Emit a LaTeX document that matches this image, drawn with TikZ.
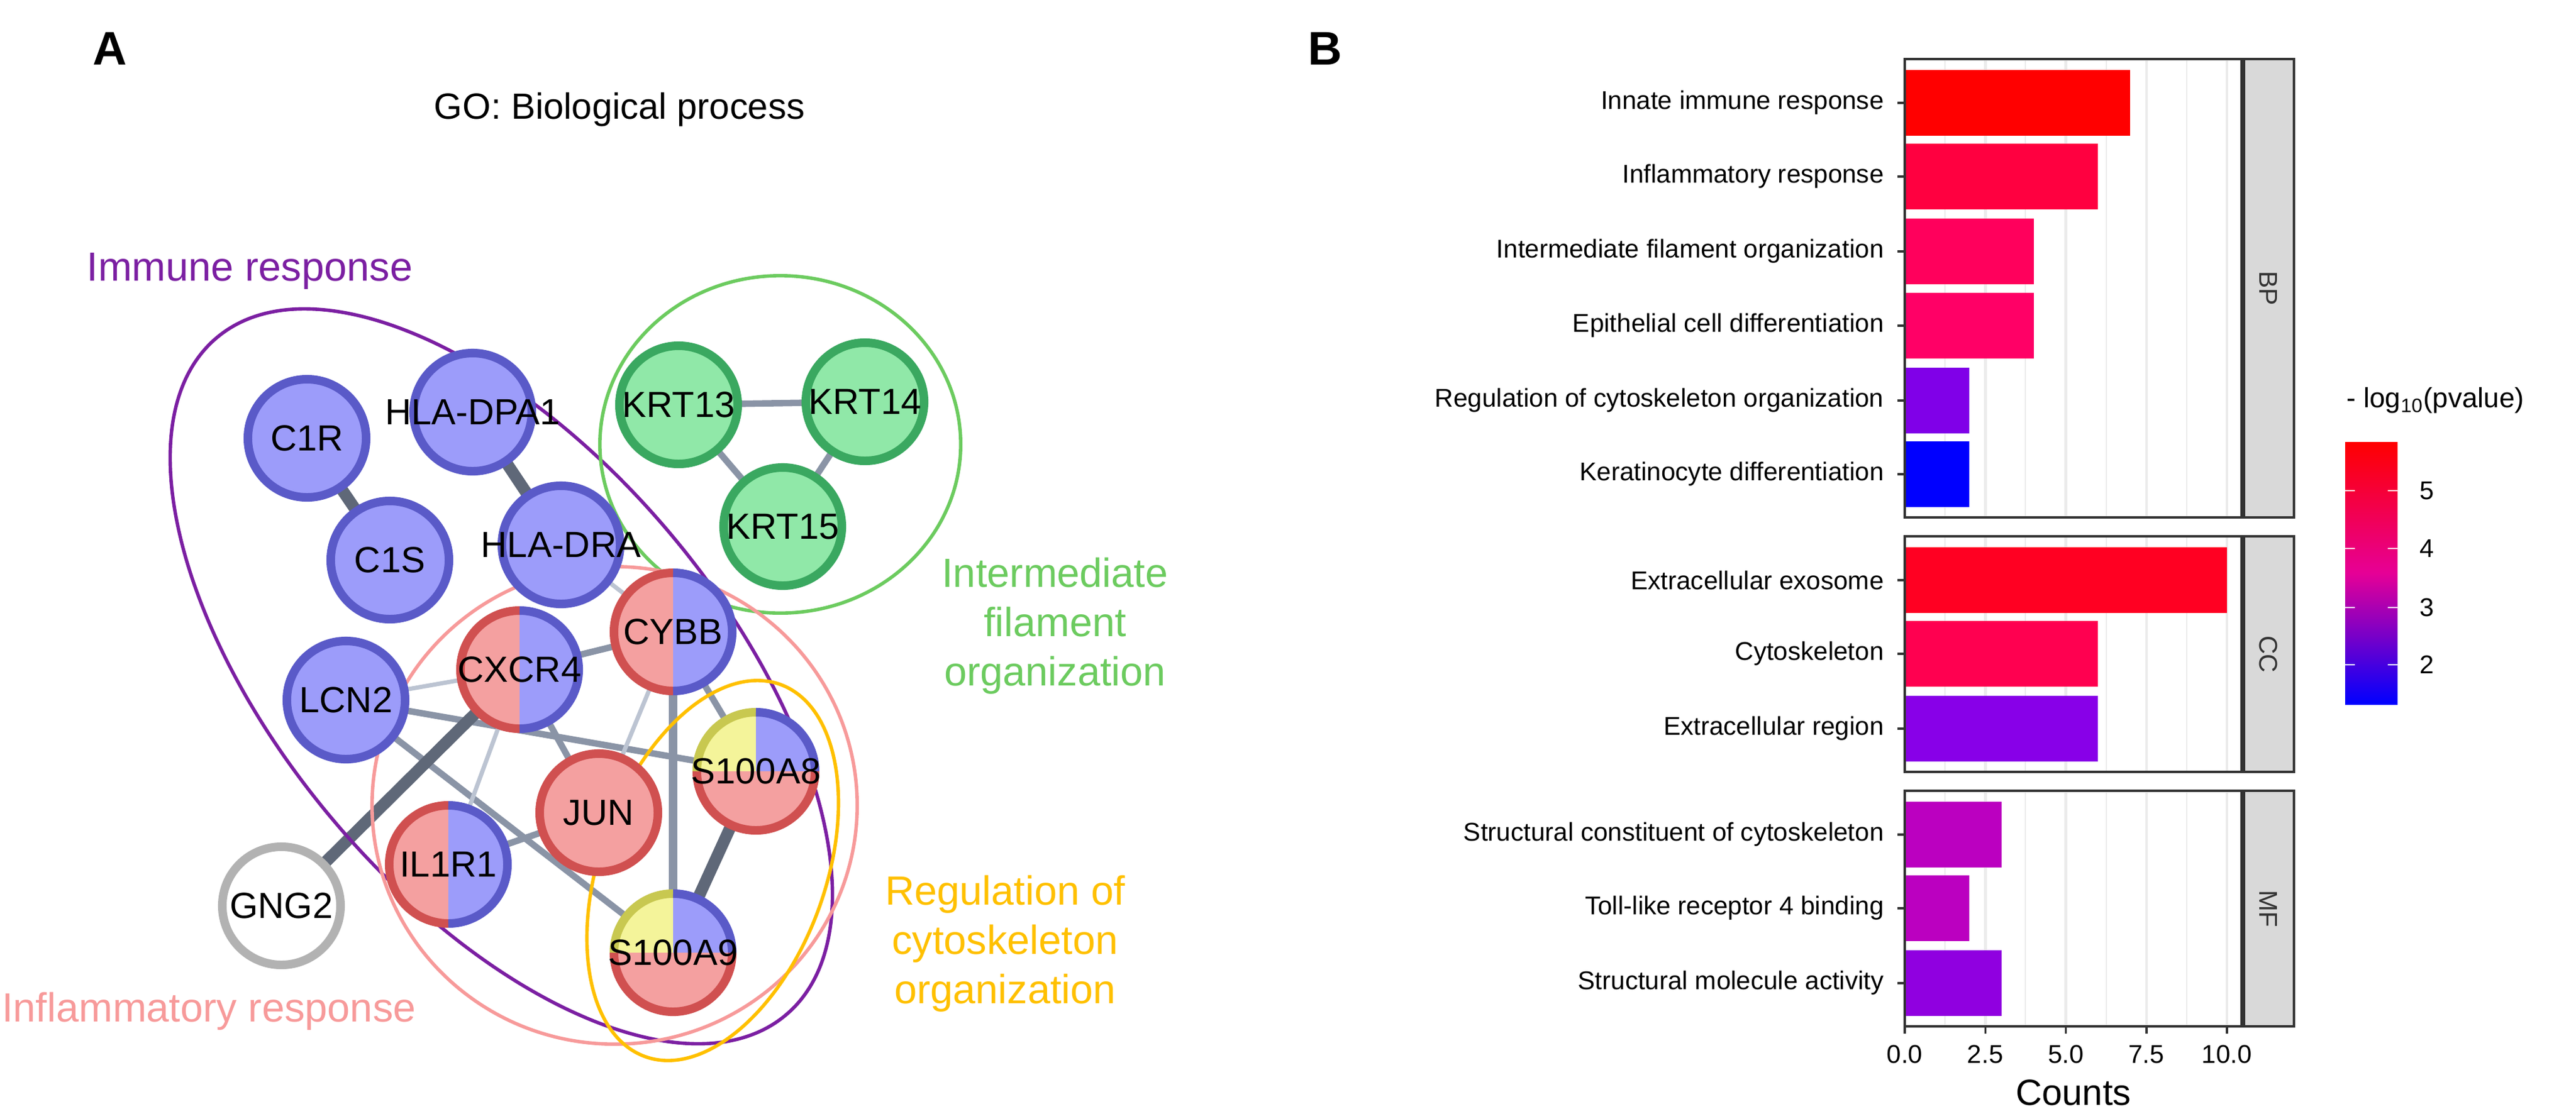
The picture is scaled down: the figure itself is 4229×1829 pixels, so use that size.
\documentclass[tikz,border=0pt]{standalone}
\usepackage{fontspec}
\setmainfont{Liberation Sans}
\usetikzlibrary{backgrounds}
\definecolor{nb}{HTML}{9C9CFA}\definecolor{nbb}{HTML}{5A5AC8}
\definecolor{ng}{HTML}{90E8A8}\definecolor{ngb}{HTML}{3AA860}
\definecolor{nr}{HTML}{F4A0A0}\definecolor{nrb}{HTML}{D05050}
\definecolor{ny}{HTML}{F4F49A}\definecolor{nyb}{HTML}{C8C850}
\definecolor{ed}{HTML}{5F6878}\definecolor{em}{HTML}{8A94A6}\definecolor{el}{HTML}{BCC4D2}
\definecolor{cpur}{HTML}{7B1FA2}\definecolor{cgrn}{HTML}{6CCB5F}\definecolor{cpink}{HTML}{F79A9A}\definecolor{cyel}{HTML}{FFC000}
\definecolor{grid}{HTML}{EBEBEB}\definecolor{strip}{HTML}{D9D9D9}\definecolor{frame}{HTML}{333333}
\begin{document}
\begin{tikzpicture}[x=0.01cm,y=-0.01cm,
  gn/.style={circle,minimum size=1.94cm,inner sep=0pt,outer sep=0pt,line width=4pt},
  bn/.style={gn,fill=nb,draw=nbb},
  grn/.style={gn,fill=ng,draw=ngb},
  sp/.style={gn,path picture={\fill[nr](path picture bounding box.south west) rectangle (path picture bounding box.north);\fill[nb](path picture bounding box.south) rectangle (path picture bounding box.north east);}},
  sq/.style={gn,path picture={\fill[nr](path picture bounding box.south west) rectangle (path picture bounding box.east);\fill[ny](path picture bounding box.west) rectangle (path picture bounding box.north);\fill[nb](path picture bounding box.center) rectangle (path picture bounding box.north east);}},
  nl/.style={font=\fontsize{17}{19}\selectfont,inner sep=0pt},
  e1/.style={line width=5.5pt,ed},e2/.style={line width=3pt,em},e3/.style={line width=2pt,el},
  lab/.style={font=\fontsize{19}{23}\selectfont,align=center},
  tk/.style={font=\fontsize{12}{14}\selectfont,anchor=east}]
\useasboundingbox (0,0) rectangle (4229,1829);
\node[font=\fontsize{22}{24}\selectfont\bfseries] (A) at (180,80) {A};
\node[font=\fontsize{22}{24}\selectfont\bfseries] (B) at (2175,80) {B};
\node[font=\fontsize{17}{20}\selectfont] (title) at (1017,180) {GO: Biological process};
% ellipses
\draw[cpur,line width=1.6pt] (823,1111) ellipse[x radius=7.26cm,y radius=3.63cm,rotate=-50];
\draw[cgrn,line width=1.6pt] (1281,730) ellipse[x radius=2.96cm,y radius=2.77cm];
\draw[cpink,line width=1.6pt] (1009,1323) ellipse[x radius=3.98cm,y radius=3.92cm];
\draw[cyel,line width=1.6pt] (1170,1430) ellipse[x radius=3.25cm,y radius=1.85cm,rotate=70];
\node[lab,text=cpur] (t1) at (410,445) {Immune response};
\node[lab,text=cgrn] (t2) at (1732,1028) {Intermediate\\filament\\organization};
\node[lab,text=cyel] (t3) at (1650,1550) {Regulation of\\cytoskeleton\\organization};
\node[lab,text=cpink] (t4) at (343,1661) {Inflammatory response};
% nodes
\node[bn] (c1r) at (504,720) {};
\node[bn] (dpa) at (776,677) {};
\node[bn] (c1s) at (640,920) {};
\node[bn] (dra) at (921,895) {};
\node[grn] (k13) at (1114,665) {};
\node[grn] (k14) at (1420,660) {};
\node[grn] (k15) at (1285,865) {};
\node[sp] (cybb) at (1105,1038) {};
\node[sp] (cxcr) at (853,1100) {};
\node[bn] (lcn) at (568,1150) {};
\node[sq] (s8) at (1241,1267) {};
\node[gn,fill=nr,draw=nrb] (jun) at (983,1335) {};
\node[sp] (il1) at (736,1420) {};
\node[gn,fill=white,draw=gray!60] (gng) at (462,1488) {};
\node[sq] (s9) at (1105,1565) {};
\foreach \n in {cybb,cxcr,il1}{
 \draw[line width=4pt,nrb] (\n.north) arc[start angle=90,end angle=270,radius=0.97cm];
 \draw[line width=4pt,nbb] (\n.south) arc[start angle=-90,end angle=90,radius=0.97cm];}
\foreach \n in {s8,s9}{
 \draw[line width=4pt,nrb] (\n.west) arc[start angle=180,end angle=360,radius=0.97cm];
 \draw[line width=4pt,nyb] (\n.west) arc[start angle=180,end angle=90,radius=0.97cm];
 \draw[line width=4pt,nbb] (\n.north) arc[start angle=90,end angle=0,radius=0.97cm];}
\foreach \n/\t in {c1r/C1R,dpa/HLA-DPA1,c1s/C1S,dra/HLA-DRA,k13/KRT13,k14/KRT14,k15/KRT15,cybb/CYBB,cxcr/CXCR4,lcn/LCN2,s8/S100A8,jun/JUN,il1/IL1R1,gng/GNG2,s9/S100A9}
 \node[nl] (\n-l) at (\n) {\t};
\begin{pgfonlayer}{background}
\draw[e1] (c1r)--(c1s); \draw[e1] (dpa)--(dra); \draw[e3] (dra)--(cybb);
\draw[e2] (k13)--(k14); \draw[e2] (k13)--(k15); \draw[e2] (k14)--(k15);
\draw[e2] (cxcr)--(cybb); \draw[e3] (lcn)--(cxcr); \draw[e2] (lcn)--(s8); \draw[e2] (lcn)--(s9);
\draw[e1] (gng)--(cxcr); \draw[e2] (cxcr)--(jun); \draw[e3] (cxcr)--(il1); \draw[e3] (cybb)--(jun);
\draw[e2,line width=4pt] (cybb)--(s9); \draw[e2] (cybb)--(s8); \draw[e2] (il1)--(jun); \draw[e1] (s8)--(s9);
\end{pgfonlayer}
% panel B
\foreach \t/\b/\s in {97/850/BP,881/1268/CC,1299/1686/MF}{
 \fill[white] (3127,\t) rectangle (3682,\b);
 \foreach \v in {1.25,3.75,6.25,8.75} \draw[grid,line width=0.6pt] ({3127+52.9*\v},\t)--({3127+52.9*\v},\b);
 \foreach \v in {2.5,5,7.5,10} \draw[grid,line width=1.3pt] ({3127+52.9*\v},\t)--({3127+52.9*\v},\b);
 \fill[strip] (3682,\t) rectangle (3766,\b);
 \draw[frame,line width=1pt] (3127,\t) rectangle (3766,\b);
 \draw[frame,line width=2.5pt] (3682,\t)--(3682,\b);
 \node[rotate=-90,font=\fontsize{12}{14}\selectfont,text=frame] at (3724,{(\t+\b)/2}) {\s};}
\foreach \y/\v/\c/\l in {169/7/FF0000/Innate immune response,290/6/FF0040/Inflammatory response,413/4/FF005C/Intermediate filament organization,535/4/FF0066/Epithelial cell differentiation,658/2/8000E8/Regulation of cytoskeleton organization,779/2/0000FF/Keratinocyte differentiation,953/10/FF0022/Extracellular exosome,1074/6/FF0050/Cytoskeleton,1197/6/8800E8/Extracellular region,1371/3/BB00C0/Structural constituent of cytoskeleton,1492/2/BB00C0/Toll-like receptor 4 binding,1615/3/9000E0/Structural molecule activity}{
 \definecolor{bc}{HTML}{\c}
 \fill[bc] (3129,\y-54) rectangle ({3127+52.9*\v},\y+54);
 \draw[frame,line width=1pt] (3115,\y)--(3127,\y);
 \node[tk] at (3105,\y) {\l};}
\foreach \v/\l in {0/0.0,2.5/2.5,5/5.0,7.5/7.5,10/10.0}{
 \draw[frame,line width=1pt] ({3127+52.9*\v},1686)--({3127+52.9*\v},1698);
 \node[font=\fontsize{12}{14}\selectfont] at ({3127+52.9*\v},1732) {\l};}
\node[font=\fontsize{17}{20}\selectfont] (cnt) at (3404,1795) {Counts};
\node[font=\fontsize{13}{15}\selectfont,anchor=west] (lg) at (3840,658) {- log\textsubscript{10}(pvalue)};
\shade[bottom color=blue,top color=red,middle color={rgb,255:red,230;green,0;blue,150}] (3850,726) rectangle (3936,1157);
\foreach \y/\l in {806/5,901/4,998/3,1092/2}{
 \draw[white,line width=0.8pt] (3850,\y)--(3866,\y) (3920,\y)--(3936,\y);
 \node[font=\fontsize{12}{14}\selectfont,anchor=west] at (3960,\y) {\l};}
\end{tikzpicture}
\end{document}
